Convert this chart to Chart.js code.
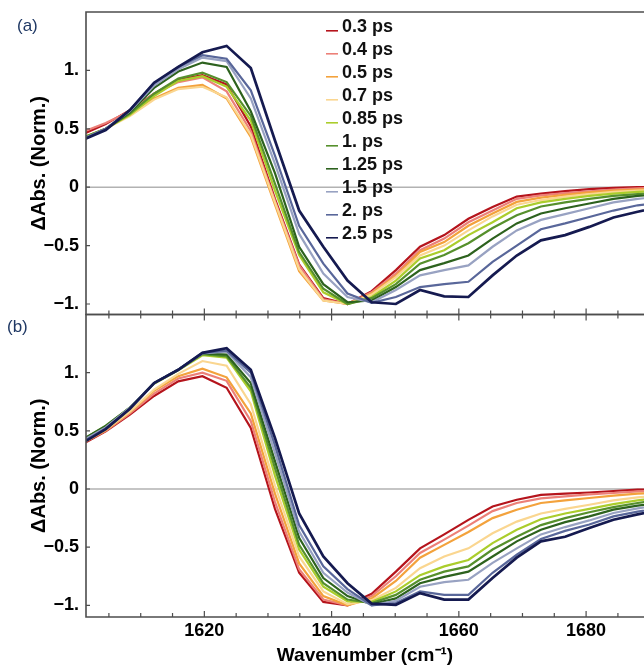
<!DOCTYPE html>
<html>
<head>
<meta charset="utf-8">
<script src="https://cdn.jsdelivr.net/npm/chart.js@4.4.1/dist/chart.umd.min.js"></script>
<style>
	html, body { margin: 0; padding: 0; background: #fff; }
	#wrap { position: relative; width: 644px; height: 665px; overflow: hidden; }
	#chartA { position: absolute; left: 0; top: 0; }
	#chartB { position: absolute; left: 0; top: 310px; }
</style>
</head>
<body>
<div id="wrap">
	<canvas id="chartA" width="644" height="317"></canvas>
	<canvas id="chartB" width="644" height="355"></canvas>
</div>
<script>
var FONT = "'Liberation Sans', Arial, sans-serif";

// wavenumber grid (cm-1)
var wavenumber = [1600.7, 1604.5, 1608.3, 1612.1, 1615.9, 1619.7, 1623.5, 1627.3, 1631.1, 1634.9,
	1638.7, 1642.5, 1646.3, 1650.1, 1653.9, 1657.7, 1661.5, 1665.3, 1669.1, 1672.9,
	1676.7, 1680.5, 1684.3, 1688.1, 1691.9];

var delays = ['0.3 ps', '0.4 ps', '0.5 ps', '0.7 ps', '0.85 ps', '1. ps', '1.25 ps', '1.5 ps', '2. ps', '2.5 ps'];
var colors = ['#b5141c', '#ec8078', '#f3a23c', '#fad690', '#abcd2c', '#56902c', '#2d621e', '#98a2c2', '#59679a', '#151a50'];

var yTicks = [-1, -0.5, 0, 0.5, 1];
var xLabels = [1620, 1640, 1660, 1680];

// panel (a)
var a03 = [0.45, 0.54, 0.66, 0.80, 0.92, 0.96, 0.88, 0.52, -0.10, -0.66, -0.95, -1.00, -0.89, -0.71, -0.51, -0.41, -0.27, -0.17, -0.08, -0.055, -0.034, -0.017, -0.005, 0.0, 0.0];
var a04 = [0.47, 0.55, 0.65, 0.80, 0.90, 0.94, 0.82, 0.48, -0.12, -0.67, -0.96, -1.00, -0.90, -0.74, -0.54, -0.44, -0.30, -0.20, -0.10, -0.07, -0.05, -0.035, -0.02, -0.01, -0.005];
var a05 = [0.42, 0.50, 0.62, 0.76, 0.85, 0.875, 0.76, 0.43, -0.15, -0.72, -0.97, -1.00, -0.91, -0.76, -0.555, -0.47, -0.33, -0.225, -0.126, -0.09, -0.065, -0.045, -0.03, -0.02, -0.015];
var a07 = [0.42, 0.50, 0.61, 0.75, 0.84, 0.86, 0.77, 0.45, -0.13, -0.70, -0.97, -1.00, -0.92, -0.77, -0.585, -0.50, -0.37, -0.25, -0.15, -0.11, -0.08, -0.06, -0.04, -0.03, -0.02];
var a085 = [0.42, 0.50, 0.62, 0.78, 0.91, 0.95, 0.86, 0.57, -0.03, -0.58, -0.90, -1.00, -0.94, -0.80, -0.61, -0.54, -0.41, -0.30, -0.18, -0.13, -0.10, -0.075, -0.055, -0.04, -0.03];
var a1 = [0.42, 0.50, 0.63, 0.80, 0.93, 0.98, 0.90, 0.61, 0.03, -0.555, -0.87, -1.00, -0.95, -0.83, -0.655, -0.58, -0.48, -0.35, -0.24, -0.165, -0.13, -0.10, -0.075, -0.06, -0.045];
var a125 = [0.41, 0.50, 0.64, 0.85, 0.99, 1.067, 1.03, 0.65, 0.12, -0.51, -0.83, -0.985, -0.97, -0.855, -0.71, -0.65, -0.585, -0.44, -0.31, -0.225, -0.18, -0.14, -0.10, -0.075, -0.06];
var a15 = [0.41, 0.50, 0.65, 0.87, 1.01, 1.11, 1.08, 0.76, 0.20, -0.40, -0.74, -0.94, -0.985, -0.88, -0.755, -0.71, -0.67, -0.51, -0.37, -0.28, -0.23, -0.18, -0.13, -0.10, -0.08];
var a2 = [0.40, 0.50, 0.66, 0.89, 1.03, 1.13, 1.10, 0.83, 0.27, -0.33, -0.655, -0.91, -0.99, -0.94, -0.855, -0.83, -0.81, -0.64, -0.50, -0.36, -0.31, -0.255, -0.20, -0.155, -0.13];
var a25 = [0.40, 0.49, 0.66, 0.895, 1.03, 1.155, 1.21, 1.02, 0.40, -0.20, -0.51, -0.80, -0.985, -1.00, -0.88, -0.935, -0.94, -0.755, -0.585, -0.455, -0.41, -0.34, -0.26, -0.21, -0.17];

// panel (b)
var b03 = [0.38, 0.495, 0.64, 0.80, 0.925, 0.97, 0.87, 0.525, -0.17, -0.72, -0.97, -1.00, -0.90, -0.71, -0.51, -0.39, -0.265, -0.15, -0.092, -0.05, -0.04, -0.03, -0.017, -0.006, 0.0];
var b04 = [0.39, 0.50, 0.65, 0.82, 0.95, 1.00, 0.93, 0.585, -0.11, -0.69, -0.95, -1.00, -0.92, -0.75, -0.55, -0.435, -0.315, -0.19, -0.12, -0.08, -0.063, -0.046, -0.034, -0.02, -0.012];
var b05 = [0.39, 0.505, 0.66, 0.845, 0.97, 1.035, 0.96, 0.65, -0.04, -0.64, -0.92, -1.00, -0.94, -0.79, -0.59, -0.48, -0.37, -0.25, -0.178, -0.12, -0.097, -0.077, -0.057, -0.04, -0.03];
var b07 = [0.39, 0.51, 0.665, 0.855, 0.99, 1.10, 1.06, 0.73, 0.03, -0.58, -0.88, -0.99, -0.955, -0.85, -0.68, -0.58, -0.51, -0.38, -0.28, -0.21, -0.17, -0.135, -0.097, -0.072, -0.055];
var b085 = [0.41, 0.535, 0.70, 0.905, 1.02, 1.15, 1.13, 0.84, 0.115, -0.52, -0.84, -0.965, -0.97, -0.88, -0.74, -0.665, -0.61, -0.465, -0.35, -0.26, -0.21, -0.17, -0.13, -0.097, -0.075];
var b1 = [0.42, 0.545, 0.70, 0.91, 1.025, 1.16, 1.14, 0.87, 0.18, -0.48, -0.81, -0.95, -0.98, -0.91, -0.78, -0.71, -0.665, -0.52, -0.41, -0.31, -0.25, -0.20, -0.155, -0.12, -0.095];
var b125 = [0.42, 0.54, 0.70, 0.91, 1.025, 1.165, 1.155, 0.91, 0.24, -0.42, -0.765, -0.92, -0.99, -0.94, -0.81, -0.755, -0.71, -0.58, -0.45, -0.35, -0.285, -0.235, -0.177, -0.143, -0.115];
var b15 = [0.41, 0.53, 0.70, 0.91, 1.025, 1.165, 1.18, 0.96, 0.31, -0.365, -0.72, -0.89, -1.00, -0.96, -0.84, -0.80, -0.78, -0.635, -0.51, -0.39, -0.327, -0.27, -0.206, -0.166, -0.135];
var b2 = [0.40, 0.52, 0.69, 0.91, 1.025, 1.17, 1.19, 1.00, 0.375, -0.31, -0.665, -0.86, -1.00, -0.98, -0.88, -0.91, -0.91, -0.72, -0.565, -0.43, -0.36, -0.305, -0.235, -0.195, -0.16];
var b25 = [0.39, 0.515, 0.69, 0.91, 1.025, 1.17, 1.21, 1.025, 0.44, -0.21, -0.58, -0.81, -0.985, -0.995, -0.895, -0.95, -0.95, -0.765, -0.59, -0.45, -0.41, -0.335, -0.264, -0.218, -0.18];

var panelA = [a03, a04, a05, a07, a085, a1, a125, a15, a2, a25];
var panelB = [b03, b04, b05, b07, b085, b1, b125, b15, b2, b25];

function tickText(v) {
	if(v === 0) return '0';
	var s = (Math.abs(v) === 1) ? '1.' : String(Math.abs(v));
	return (v < 0 ? '\u2212' : '') + s;
}

/*
 * Frame, inward ticks, zero line, legend and panel label
 */
var decor = {
	id: 'decor',
	beforeDatasetsDraw: function(chart, args, o) {
		var ctx = chart.ctx, a = chart.chartArea;
		var y0 = chart.scales.y.getPixelForValue(0);
		ctx.save();
		ctx.strokeStyle = '#b2b2b2';
		ctx.lineWidth = 1.4;
		ctx.beginPath();
		ctx.moveTo(a.left, y0);
		ctx.lineTo(a.right, y0);
		ctx.stroke();
		ctx.restore();
	},
	afterDatasetsDraw: function(chart, args, o) {
		var ctx = chart.ctx, a = chart.chartArea, x = chart.scales.x, y = chart.scales.y;
		var v, px, py, len, i;
		ctx.save();
		ctx.strokeStyle = '#4d4d4d';
		ctx.lineWidth = 1.6;
		ctx.beginPath();
		ctx.moveTo(a.left, a.top - 0.8);
		ctx.lineTo(a.left, a.bottom + 0.8);
		ctx.moveTo(a.left, a.bottom);
		ctx.lineTo(a.right, a.bottom);
		ctx.moveTo(a.left, a.top);
		ctx.lineTo(a.right, a.top);
		ctx.stroke();

		ctx.lineWidth = 1.2;
		ctx.beginPath();
		for(v = 1605; v < x.max; v += 5) {
			px = x.getPixelForValue(v);
			len = (v % 20 === 0) ? 6 : 4;
			ctx.moveTo(px, a.bottom);
			ctx.lineTo(px, a.bottom - len);
			if(o.topTicks) {
				ctx.moveTo(px, a.top);
				ctx.lineTo(px, a.top + len);
			}
		}
		for(i = 0; i < yTicks.length; i++) {
			py = y.getPixelForValue(yTicks[i]);
			ctx.moveTo(a.left, py);
			ctx.lineTo(a.left + 4, py);
		}
		ctx.stroke();
		ctx.restore();
	},
	afterDraw: function(chart, args, o) {
		var ctx = chart.ctx, i, base;
		ctx.save();
		ctx.fillStyle = '#1f3864';
		ctx.font = '17px ' + FONT;
		ctx.textBaseline = 'alphabetic';
		ctx.fillText(o.label, o.labelX, o.labelY);

		if(o.legend) {
			ctx.font = 'bold 18px ' + FONT;
			ctx.fillStyle = '#111';
			for(i = 0; i < delays.length; i++) {
				base = 32.3 + 23 * i;
				ctx.strokeStyle = colors[i];
				ctx.lineWidth = 1.6;
				ctx.beginPath();
				ctx.moveTo(326, base - 1.5);
				ctx.lineTo(338, base - 1.5);
				ctx.stroke();
				ctx.fillText(delays[i], 342, base);
			}
		}
		ctx.restore();
	}
};

function makeChart(id, panel, opts) {
	var datasets = panel.map(function(vals, i) {
		return {
			label: delays[i],
			data: vals.map(function(v, k) { return { x: wavenumber[k], y: v }; }),
			borderColor: colors[i],
			borderWidth: i === 9 ? 2.7 : 2.2,
			pointRadius: 0,
			tension: 0,
			clip: 0,
			order: 9 - i
		};
	});

	return new Chart(document.getElementById(id), {
		type: 'line',
		data: { datasets: datasets },
		plugins: [decor],
		options: {
			responsive: false,
			animation: false,
			devicePixelRatio: 1,
			layout: { padding: opts.padding },
			plugins: {
				legend: { display: false },
				tooltip: { enabled: false },
				decor: opts.decor
			},
			scales: {
				x: {
					type: 'linear',
					min: 1601.4,
					max: 1689.1,
					display: opts.showX,
					afterBuildTicks: function(s) { s.ticks = xLabels.map(function(v) { return { value: v }; }); },
					afterFit: function(s) { s.height = opts.showX ? 48 : 0; s.paddingLeft = 0; s.paddingRight = 0; },
					grid: { display: false, drawTicks: false },
					border: { display: false },
					ticks: {
						color: '#000',
						font: { family: FONT, size: 18, weight: 'bold' },
						padding: 3,
						maxRotation: 0,
						autoSkip: false,
						callback: function(v) { return String(v); }
					},
					title: {
						display: true,
						text: 'Wavenumber (cm\u207B\u00B9)',
						color: '#000',
						font: { family: FONT, size: 19, weight: 'bold', lineHeight: 1 },
						padding: { top: 0, bottom: 0 }
					}
				},
				y: {
					min: opts.yMin,
					max: 1.5,
					afterBuildTicks: function(s) { s.ticks = yTicks.map(function(v) { return { value: v }; }); },
					afterFit: function(s) { s.width = 86; s.paddingTop = 0; s.paddingBottom = 0; },
					grid: { display: false, drawTicks: false },
					border: { display: false },
					ticks: {
						color: '#000',
						font: { family: FONT, size: 18, weight: 'bold' },
						padding: 7,
						callback: function(v) { return tickText(v); }
					},
					title: {
						display: true,
						text: '\u0394Abs. (Norm.)',
						color: '#000',
						font: { family: FONT, size: 20, weight: 'bold' },
						padding: { top: 27, bottom: 0 }
					}
				}
			}
		}
	});
}

makeChart('chartA', panelA, {
	padding: { top: 12, bottom: 2.5, left: 0, right: 0 },
	showX: false,
	yMin: -1.09,
	decor: { label: '(a)', labelX: 17, labelY: 31, legend: true, topTicks: false }
});

makeChart('chartB', panelB, {
	padding: { top: 4.5, bottom: 0, left: 0, right: 0 },
	showX: true,
	yMin: -1.10,
	decor: { label: '(b)', labelX: 7, labelY: 22, legend: false, topTicks: true }
});
</script>
</body>
</html>
